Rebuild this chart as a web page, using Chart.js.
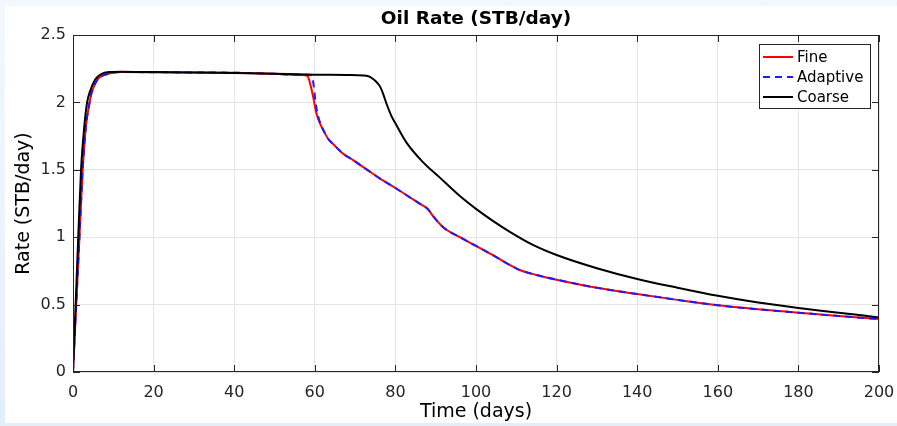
<!DOCTYPE html>
<html>
<head>
<meta charset="utf-8">
<script src="https://cdn.jsdelivr.net/npm/chart.js@4.4.0/dist/chart.umd.min.js"></script>
<style>
  html, body { margin: 0; padding: 0; }
  body { width: 897px; height: 426px; background: linear-gradient(#f4f8fd, #e3eefb); overflow: hidden; position: relative; }
  #box { position: absolute; left: 5px; top: 6px; width: 892px; height: 417px; background: #fff; }
</style>
</head>
<body>
<div id="box"><canvas id="chart" width="892" height="417"></canvas></div>
<script>
const chartTitle = "Oil Rate (STB/day)";
const xTitle = "Time (days)";
const yTitle = "Rate (STB/day)";
const xTicks = [0, 20, 40, 60, 80, 100, 120, 140, 160, 180, 200];
const yTicks = [0, 0.5, 1, 1.5, 2, 2.5];

// Fine
const fineTime = [0, 0.8, 1.6, 2.4, 3.2, 4.0, 4.6, 6.1, 7.5, 9, 12, 20, 30, 40, 50, 55, 57.5, 58.3, 59, 59.6, 60.4, 61.2, 62.1, 63.3, 64.6, 67, 69.6, 73, 76.2, 80, 84.4, 86.5, 88, 89.4, 92, 96, 100, 104, 108, 111, 115, 120, 130, 140, 150, 160, 170, 180, 190, 200];
const fineRate = [0, 0.5, 1.0, 1.5, 1.82, 1.98, 2.07, 2.17, 2.2, 2.215, 2.225, 2.224, 2.222, 2.22, 2.212, 2.205, 2.202, 2.19, 2.12, 2.04, 1.92, 1.85, 1.795, 1.73, 1.69, 1.62, 1.57, 1.5, 1.435, 1.365, 1.28, 1.24, 1.21, 1.155, 1.07, 1.0, 0.935, 0.87, 0.8, 0.755, 0.72, 0.685, 0.625, 0.578, 0.535, 0.495, 0.465, 0.44, 0.415, 0.393];

// Adaptive
const adaptTime = [0, 0.8, 1.6, 2.4, 3.2, 4.0, 4.6, 6.1, 7.5, 9, 12, 20, 30, 40, 50, 55, 57.5, 58.3, 59.2, 59.7, 60.2, 60.8, 61.6, 62.1, 63.3, 64.6, 67, 69.6, 73, 76.2, 80, 84.4, 86.5, 88, 89.4, 92, 96, 100, 104, 108, 111, 115, 120, 130, 140, 150, 160, 170, 180, 190, 200];
const adaptRate = [0, 0.5, 1.0, 1.5, 1.82, 1.98, 2.07, 2.17, 2.2, 2.215, 2.225, 2.224, 2.222, 2.22, 2.212, 2.205, 2.205, 2.205, 2.2, 2.13, 2.0, 1.9, 1.83, 1.795, 1.73, 1.69, 1.62, 1.57, 1.5, 1.435, 1.365, 1.28, 1.24, 1.21, 1.155, 1.07, 1.0, 0.935, 0.87, 0.8, 0.755, 0.72, 0.685, 0.625, 0.578, 0.535, 0.495, 0.465, 0.44, 0.415, 0.393];

// Coarse
const coarseTime = [0, 0.65, 1.3, 2.0, 2.8, 3.5, 4.2, 5.5, 7, 9, 12, 20, 30, 40, 50, 60, 68, 72, 73.7, 75, 76.2, 77, 77.8, 79, 80, 82.8, 86.9, 91.1, 96, 100, 104, 108.4, 114, 120, 130, 140, 150, 160, 170, 180, 190, 200];
const coarseRate = [0, 0.5, 1.0, 1.5, 1.82, 2.0, 2.08, 2.17, 2.21, 2.225, 2.228, 2.225, 2.222, 2.218, 2.212, 2.206, 2.204, 2.2, 2.19, 2.16, 2.117, 2.06, 1.99, 1.9, 1.845, 1.7, 1.555, 1.44, 1.305, 1.21, 1.125, 1.04, 0.945, 0.868, 0.77, 0.69, 0.625, 0.565, 0.515, 0.475, 0.44, 0.405];

const pts = (t, v) => t.map((x, i) => ({ x: x, y: v[i] }));
const ink = "#262626";

Chart.defaults.font.family = '"DejaVu Sans", sans-serif';
Chart.defaults.color = ink;

// matlab style box, inward ticks, title and legend
const frame = {
  id: "frame",
  afterDraw(chart) {
    const { ctx, chartArea: a, scales } = chart;
    ctx.save();
    ctx.strokeStyle = ink;
    ctx.lineWidth = 1;
    ctx.setLineDash([]);
    ctx.beginPath();
    xTicks.forEach((v) => {
      const px = Math.round(scales.x.getPixelForValue(v)) + 0.5;
      ctx.moveTo(px, a.bottom); ctx.lineTo(px, a.bottom - 7);
      ctx.moveTo(px, a.top); ctx.lineTo(px, a.top + 7);
    });
    yTicks.forEach((v) => {
      const py = Math.round(scales.y.getPixelForValue(v)) + 0.5;
      ctx.moveTo(a.left, py); ctx.lineTo(a.left + 7, py);
      ctx.moveTo(a.right, py); ctx.lineTo(a.right - 7, py);
    });
    ctx.stroke();
    ctx.strokeRect(a.left + 0.5, a.top + 0.5, a.right - a.left - 1, a.bottom - a.top - 1);

    ctx.fillStyle = "#000";
    ctx.font = 'bold 18.5px "DejaVu Sans"';
    ctx.textAlign = "center";
    ctx.textBaseline = "middle";
    ctx.fillText(chartTitle, (a.left + a.right) / 2, 13);

    // legend
    const lx = 754, ly = 38;
    ctx.fillStyle = "#fff";
    ctx.fillRect(lx, ly, 111, 64);
    ctx.strokeStyle = ink;
    ctx.strokeRect(lx + 0.5, ly + 0.5, 111, 64);
    ctx.font = '15px "DejaVu Sans"';
    ctx.textAlign = "left";
    chart.data.datasets.forEach((ds, i) => {
      const yy = ly + 13 + i * 20;
      ctx.strokeStyle = ds.borderColor;
      ctx.lineWidth = 2;
      ctx.setLineDash(ds.borderDash || []);
      ctx.beginPath();
      ctx.moveTo(lx + 4, yy); ctx.lineTo(lx + 34, yy);
      ctx.stroke();
      ctx.fillStyle = "#000";
      ctx.fillText(ds.label, lx + 38, yy + 1);
    });
    ctx.restore();
  }
};

new Chart(document.getElementById("chart"), {
  type: "line",
  data: {
    datasets: [
      { label: "Fine", data: pts(fineTime, fineRate), borderColor: "#ff0000", order: 2 },
      { label: "Adaptive", data: pts(adaptTime, adaptRate), borderColor: "#1a1aff", borderDash: [7, 5], order: 1 },
      { label: "Coarse", data: pts(coarseTime, coarseRate), borderColor: "#000000", order: 0 }
    ]
  },
  options: {
    responsive: false,
    animation: false,
    devicePixelRatio: 1,
    layout: { padding: { top: 29, right: 18, left: 0, bottom: 0 } },
    elements: {
      point: { radius: 0 },
      line: { borderWidth: 2, cubicInterpolationMode: "monotone", fill: false }
    },
    plugins: { legend: { display: false }, tooltip: { enabled: false } },
    scales: {
      x: {
        type: "linear",
        min: 0, max: 200,
        afterBuildTicks: (s) => { s.ticks = xTicks.map((v) => ({ value: v })); },
        afterFit: (s) => { s.height = 51; s.paddingLeft = 0; s.paddingRight = 0; },
        grid: { color: "#e5e5e5", drawTicks: false },
        border: { display: false },
        ticks: { font: { size: 16 }, padding: 11, color: ink, callback: (v) => String(v) },
        title: { display: true, text: xTitle, font: { size: 19, lineHeight: 1.1 }, color: "#000", padding: { top: 0, bottom: 0 } }
      },
      y: {
        min: 0, max: 2.5,
        afterBuildTicks: (s) => { s.ticks = yTicks.map((v) => ({ value: v })); },
        afterFit: (s) => { s.width = 68; s.paddingTop = 0; s.paddingBottom = 0; },
        grid: { color: "#e5e5e5", drawTicks: false },
        border: { display: false },
        ticks: { font: { size: 16 }, padding: 7, color: ink, callback: (v) => String(v) },
        title: { display: true, text: yTitle, font: { size: 19 }, color: "#000", padding: { top: 8, bottom: 0 } }
      }
    }
  },
  plugins: [frame]
});
</script>
</body>
</html>
